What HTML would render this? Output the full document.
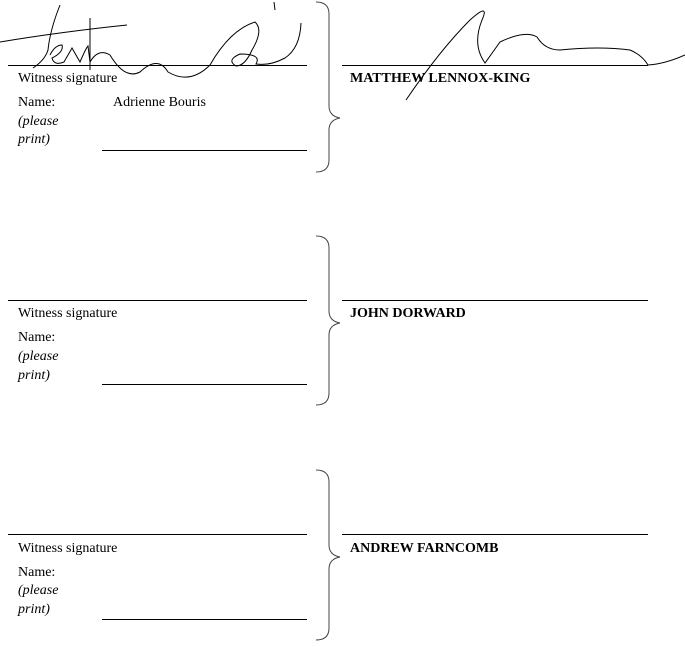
<!DOCTYPE html>
<html><head><style>
body{margin:0;background:#fff;width:685px;height:642px;overflow:hidden}
svg text{font-family:"Liberation Serif",serif;font-size:14px;fill:#000}
</style></head><body>
<svg width="685" height="642" viewBox="0 0 685 642" xmlns="http://www.w3.org/2000/svg">
<g stroke="#000" stroke-width="1" fill="none">
<line x1="8" y1="65.5" x2="307" y2="65.5"/><line x1="342" y1="65.5" x2="648" y2="65.5"/><line x1="102" y1="150.5" x2="307" y2="150.5"/>
<line x1="8" y1="300.5" x2="307" y2="300.5"/><line x1="342" y1="300.5" x2="648" y2="300.5"/><line x1="102" y1="384.5" x2="307" y2="384.5"/>
<line x1="8" y1="534.5" x2="307" y2="534.5"/><line x1="342" y1="534.5" x2="648" y2="534.5"/><line x1="102" y1="619.5" x2="307" y2="619.5"/>
</g>
<g stroke="#444" stroke-width="1" fill="none">
<path d="M316 2 Q329 2 329 14 L329 106 Q329 116 340 118 Q329 120 329 130 L329 160 Q329 172 316 172"/>
<path d="M316 236 Q329 236 329 248 L329 311 Q329 321 340 323 Q329 325 329 335 L329 393 Q329 405 316 405"/>
<path d="M316 470 Q329 470 329 482 L329 545 Q329 555 340 557 Q329 559 329 569 L329 628 Q329 640 316 640"/>
</g>
<g stroke="#000" stroke-width="1" fill="none">
<path d="M0 42 Q60 32 127 25"/>
<path d="M60 5 Q50 30 48 50 Q45 60 33 68"/>
<path d="M50 55 Q55 45 62 45 Q64 52 52 58 Q54 66 64 62 L72 48 L80 62 Q86 48 88 46 L90 62 Q98 48 110 55 Q125 80 140 72 Q158 55 168 72 Q190 85 210 65 Q230 30 255 22 Q264 30 252 50 Q245 66 236 66 Q226 60 240 54 Q262 54 256 64 Q270 66 285 58 Q300 48 301 23"/>
<path d="M90 18 L90 70"/>
<path d="M274 2 L275 10"/>
<path d="M406 100 Q440 50 470 20 Q490 2 482 20 Q472 45 485 63 L500 42 Q525 30 537 37 Q545 50 560 50 Q600 46 630 50 Q642 55 648 65 Q665 64 685 55"/>
</g>
<text x="18" y="82">Witness signature</text>
<text x="18" y="106">Name:</text><text x="113" y="106">Adrienne Bouris</text>
<text x="18" y="125" font-style="italic">(please</text><text x="18" y="143" font-style="italic">print)</text>
<text x="350" y="82" font-weight="bold">MATTHEW LENNOX-KING</text>
<text x="18" y="317">Witness signature</text>
<text x="18" y="341">Name:</text>
<text x="18" y="360" font-style="italic">(please</text><text x="18" y="379" font-style="italic">print)</text>
<text x="350" y="317" font-weight="bold">JOHN DORWARD</text>
<text x="18" y="552">Witness signature</text>
<text x="18" y="576">Name:</text>
<text x="18" y="594" font-style="italic">(please</text><text x="18" y="613" font-style="italic">print)</text>
<text x="350" y="552" font-weight="bold">ANDREW FARNCOMB</text>
</svg>
</body></html>
